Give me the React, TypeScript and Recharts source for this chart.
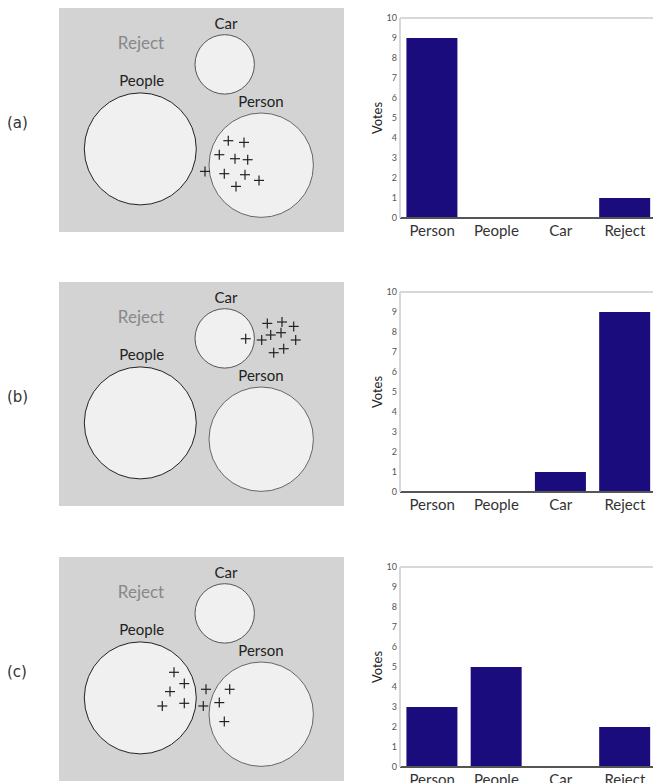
import { BarChart, Bar, XAxis, YAxis, ScatterChart, Scatter, ReferenceLine } from 'recharts';

// bar charts
const categories = ['Person', 'People', 'Car', 'Reject'];
const votesA = [9, 0, 0, 1];
const votesB = [0, 0, 1, 9];
const votesC = [3, 5, 0, 2];
const voteTicks = [0, 1, 2, 3, 4, 5, 6, 7, 8, 9, 10];

const rowLabels = ['(a)', '(b)', '(c)'];

// feature space diagram, units are pixels of the 285x224 panel
const regionX = [81.3, 165.7, 202.2];
const regionY = [140.9, 56.4, 157.2];
const regionR = [56, 29.7, 52.2];
const regionStroke = ['#222', '#555', '#666'];

const labelText = ['Reject', 'Car', 'People', 'Person'];
const labelX = [82, 167, 82.7, 202];
const labelY = [41, 20.7, 78.4, 99.4];

const samplesA = [
  [169.3, 132.7], [185, 134.4], [160.3, 146.7], [176, 150.7], [188.7, 151.7],
  [146, 163.4], [165.3, 165.7], [186, 166.7], [200, 172.4], [177, 178.4],
];
const samplesB = [
  [208.3, 41.4], [223, 40], [234.7, 44.4], [186.7, 56.7], [202.7, 58],
  [211.7, 53], [222, 50.7], [236.7, 58], [214.7, 70.7], [224.7, 66.7],
];
const samplesC = [
  [115, 115.3], [125.3, 126.6], [111, 134.6], [103.3, 149], [125.3, 146.3],
  [147, 132.3], [170.7, 132.3], [144.3, 149], [160.3, 145.6], [165.3, 164.6],
];

const FONT = 'Lato, sans-serif';
const BAR = '#1a0c7c';

const regions = regionX.map((x, i) => ({ x, y: regionY[i], r: regionR[i], stroke: regionStroke[i] }));
const labels = labelText.map((text, i) => ({ x: labelX[i], y: labelY[i], text }));

// 1 data unit == 1px, so r can be used directly
const RegionShape = (props: any) => (
  <circle cx={props.cx} cy={props.cy} r={props.payload.r} fill="#f0f0f0" stroke={props.payload.stroke} strokeWidth={1} />
);

const LabelShape = (props: any) => {
  const t = props.payload.text;
  const reject = t === 'Reject';
  return (
    <text x={props.cx} y={props.cy} textAnchor="middle" fontFamily={FONT}
      fontSize={reject ? 17 : 15} fill={reject ? '#888' : '#222'}>
      {t}
    </text>
  );
};

const PlusShape = (props: any) => {
  const { cx, cy } = props;
  return (
    <g stroke="#222" strokeWidth={1.2}>
      <line x1={cx - 5} y1={cy} x2={cx + 5} y2={cy} />
      <line x1={cx} y1={cy - 5} x2={cx} y2={cy + 5} />
    </g>
  );
};

const VotesLabel = (props: any) => {
  const vb = props.viewBox;
  const x = vb.x + 17;
  const y = vb.y + vb.height / 2;
  return (
    <text x={x} y={y} transform={`rotate(-90 ${x} ${y})`} textAnchor="middle"
      dominantBaseline="central" fontFamily={FONT} fontSize={13} fill="#222">
      Votes
    </text>
  );
};

function Row({ idx, top, votes, samples }: { idx: number; top: number; votes: number[]; samples: number[][] }) {
  const barData = categories.map((cat, i) => ({ cat, votes: votes[i] }));
  const pts = samples.map(([x, y]) => ({ x, y }));
  return (
    <>
      <div style={{ position: 'absolute', left: 7, top: top + 116, fontFamily: 'DejaVu Sans', fontSize: 15, lineHeight: '15px', color: '#333' }}>
        {rowLabels[idx]}
      </div>
      <div style={{ position: 'absolute', left: 59, top: top + 8, width: 285, height: 224, background: '#d3d3d3' }}>
        <ScatterChart width={285} height={224} margin={{ top: 0, right: 0, bottom: 0, left: 0 }}>
          <XAxis type="number" dataKey="x" domain={[0, 285]} allowDataOverflow hide />
          <YAxis type="number" dataKey="y" domain={[0, 224]} allowDataOverflow reversed hide />
          <Scatter data={regions} shape={RegionShape} isAnimationActive={false} />
          <Scatter data={labels} shape={LabelShape} isAnimationActive={false} />
          <Scatter data={pts} shape={PlusShape} isAnimationActive={false} />
        </ScatterChart>
      </div>
      <div style={{ position: 'absolute', left: 360, top }}>
        <BarChart width={297} height={250} data={barData} margin={{ top: 18, right: 0, bottom: 0, left: 0 }} barCategoryGap="10%">
          <XAxis dataKey="cat" interval={0} height={32} tickLine={false} tickSize={0} tickMargin={7}
            axisLine={{ stroke: '#555', strokeWidth: 2 }} tick={{ fill: '#333', fontSize: 15, fontFamily: FONT }} />
          <YAxis domain={[0, 10]} ticks={voteTicks} interval={0} width={40} tickLine={false} tickSize={0} tickMargin={3}
            axisLine={{ stroke: '#d8d8d8', strokeWidth: 2 }} tick={{ fill: '#555', fontSize: 9, fontFamily: FONT }}
            label={<VotesLabel />} />
          <ReferenceLine y={10} stroke="#d8d8d8" strokeWidth={2} />
          <Bar dataKey="votes" fill={BAR} isAnimationActive={false} />
        </BarChart>
      </div>
    </>
  );
}

export default function App() {
  return (
    <div style={{ position: 'fixed', left: 0, top: 0, width: 653, height: 783, overflow: 'hidden', background: '#fff' }}>
      <Row idx={0} top={0} votes={votesA} samples={samplesA} />
      <Row idx={1} top={274} votes={votesB} samples={samplesB} />
      <Row idx={2} top={549} votes={votesC} samples={samplesC} />
    </div>
  );
}
